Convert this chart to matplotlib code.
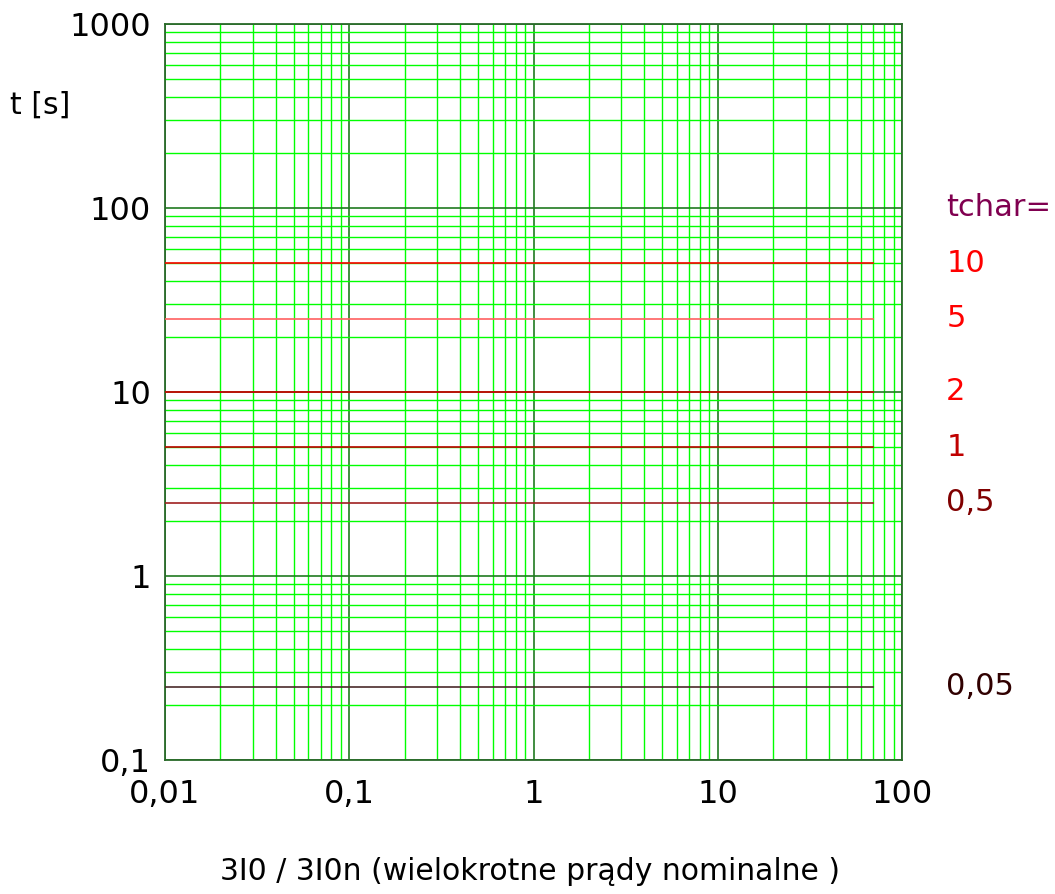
import numpy as np
import matplotlib
matplotlib.use("Agg")
import matplotlib.pyplot as plt
import matplotlib.transforms as mtransforms
from matplotlib.ticker import FixedLocator, FixedFormatter, LogLocator, NullFormatter

# tchar settings and resulting trip times (definite time)
tchar = ["10", "5", "2", "1", "0,5", "0,05"]
t_trip = [50, 25, 10, 5, 2.5, 0.25]
line_colors = ["#ff0000", "#ff6060", "#d00000", "#c00000", "#a02020", "#4a2a2a"]
label_colors = ["#ff0000", "#ff0000", "#ff0000", "#c00000", "#800000", "#300000"]
x_end = 70

x_ticks = [0.01, 0.1, 1, 10, 100]
x_labels = ["0,01", "0,1", "1", "10", "100"]
y_ticks = [0.1, 1, 10, 100, 1000]
y_labels = ["0,1", "1", "10", "100", "1000"]

fig = plt.figure(figsize=(10.55, 8.94), dpi=100)
ax = fig.add_axes([165 / 1055, 1 - 760 / 894, (902 - 165) / 1055, (760 - 24) / 894])
ax.set_xscale("log")
ax.set_yscale("log")
ax.set_xlim(0.01, 100)
ax.set_ylim(0.1, 1000)

ax.xaxis.set_major_locator(FixedLocator(x_ticks))
ax.xaxis.set_major_formatter(FixedFormatter(x_labels))
ax.yaxis.set_major_locator(FixedLocator(y_ticks))
ax.yaxis.set_major_formatter(FixedFormatter(y_labels))
ax.xaxis.set_minor_locator(LogLocator(base=10, subs=np.arange(2, 10), numticks=20))
ax.yaxis.set_minor_locator(LogLocator(base=10, subs=np.arange(2, 10), numticks=20))
ax.xaxis.set_minor_formatter(NullFormatter())
ax.yaxis.set_minor_formatter(NullFormatter())

ax.grid(True, which="minor", color="#00ff00", lw=1.0)
ax.grid(True, which="major", color="#207a20", lw=1.2)
ax.set_axisbelow(True)
ax.tick_params(which="both", length=0, labelsize=23)
ax.tick_params(axis="x", pad=14)
ax.tick_params(axis="y", pad=10)
for s in ax.spines.values():
    s.set_color("#2a6a2a")
    s.set_linewidth(1.3)

for t, c in zip(t_trip, line_colors):
    ax.plot([0.01, x_end], [t, t], color=c, lw=1.2, zorder=3)

trans = mtransforms.blended_transform_factory(ax.transAxes, ax.transData)
ax.text(1.06, 100, "tchar=", color="#800050", fontsize=22, va="center", ha="left", transform=trans)
for lab, t, c in zip(tchar, t_trip, label_colors):
    ax.text(1.06, t, lab, color=c, fontsize=22, va="center", ha="left", transform=trans)

fig.text(10 / 1055, 1 - 105 / 894, "t [s]", fontsize=21.5, va="center", ha="left")
fig.text(530 / 1055, 1 - 872 / 894, "3I0 / 3I0n (wielokrotne prądy nominalne )", fontsize=21.5, va="center", ha="center")

fig.savefig("out.png", dpi=100)
